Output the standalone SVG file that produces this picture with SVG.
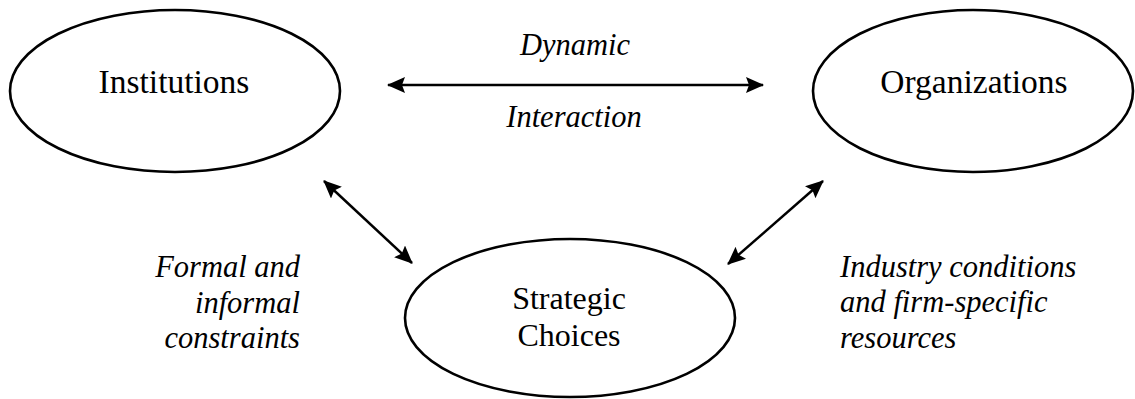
<svg xmlns="http://www.w3.org/2000/svg" width="1135" height="399" viewBox="0 0 1135 399">
<style>
.node ellipse{fill:#fff;stroke:#000;stroke-width:2.6}
.lbl{font-family:'Liberation Serif','DejaVu Serif',serif;font-size:33.5px;fill:#000;text-anchor:middle}
.it{font-family:'Liberation Serif','DejaVu Serif',serif;font-style:italic;font-size:30.5px;fill:#000}
.conn line{stroke:#000;stroke-width:2.5;marker-start:url(#ah);marker-end:url(#ah)}
</style>
<defs>
<marker id="ah" viewBox="0 0 18 16" refX="17" refY="8" markerWidth="18" markerHeight="16" markerUnits="userSpaceOnUse" orient="auto-start-reverse">
<path d="M0,0 L18,8 L0,16 L3,8 Z" fill="#000"/>
</marker>
</defs>
<rect width="1135" height="399" fill="#fff"/>
<g id="institutions" class="node">
<ellipse cx="175" cy="91" rx="165" ry="81"/>
<text class="lbl" x="174" y="93">Institutions</text>
</g>
<g id="organizations" class="node">
<ellipse cx="973" cy="91" rx="160" ry="81"/>
<text class="lbl" x="974" y="93">Organizations</text>
</g>
<g id="strategic-choices" class="node">
<ellipse cx="570" cy="318" rx="165" ry="79"/>
<text class="lbl" x="569" y="309" style="font-size:32px">Strategic</text>
<text class="lbl" x="569" y="346" style="font-size:32px">Choices</text>
</g>
<g id="connectors" class="conn">
<line x1="388" y1="85" x2="763" y2="85"/>
<line x1="324" y1="181" x2="412" y2="263"/>
<line x1="823" y1="181" x2="728" y2="264"/>
</g>
<g id="labels">
<text class="it" x="575" y="55" text-anchor="middle">Dynamic</text>
<text class="it" x="574" y="127" text-anchor="middle">Interaction</text>
<text class="it" x="300" y="277" text-anchor="end">Formal and</text>
<text class="it" x="300" y="313" text-anchor="end">informal</text>
<text class="it" x="300" y="348" text-anchor="end">constraints</text>
<text class="it" x="840" y="277">Industry conditions</text>
<text class="it" x="840" y="312">and firm-specific</text>
<text class="it" x="840" y="348">resources</text>
</g>
</svg>
